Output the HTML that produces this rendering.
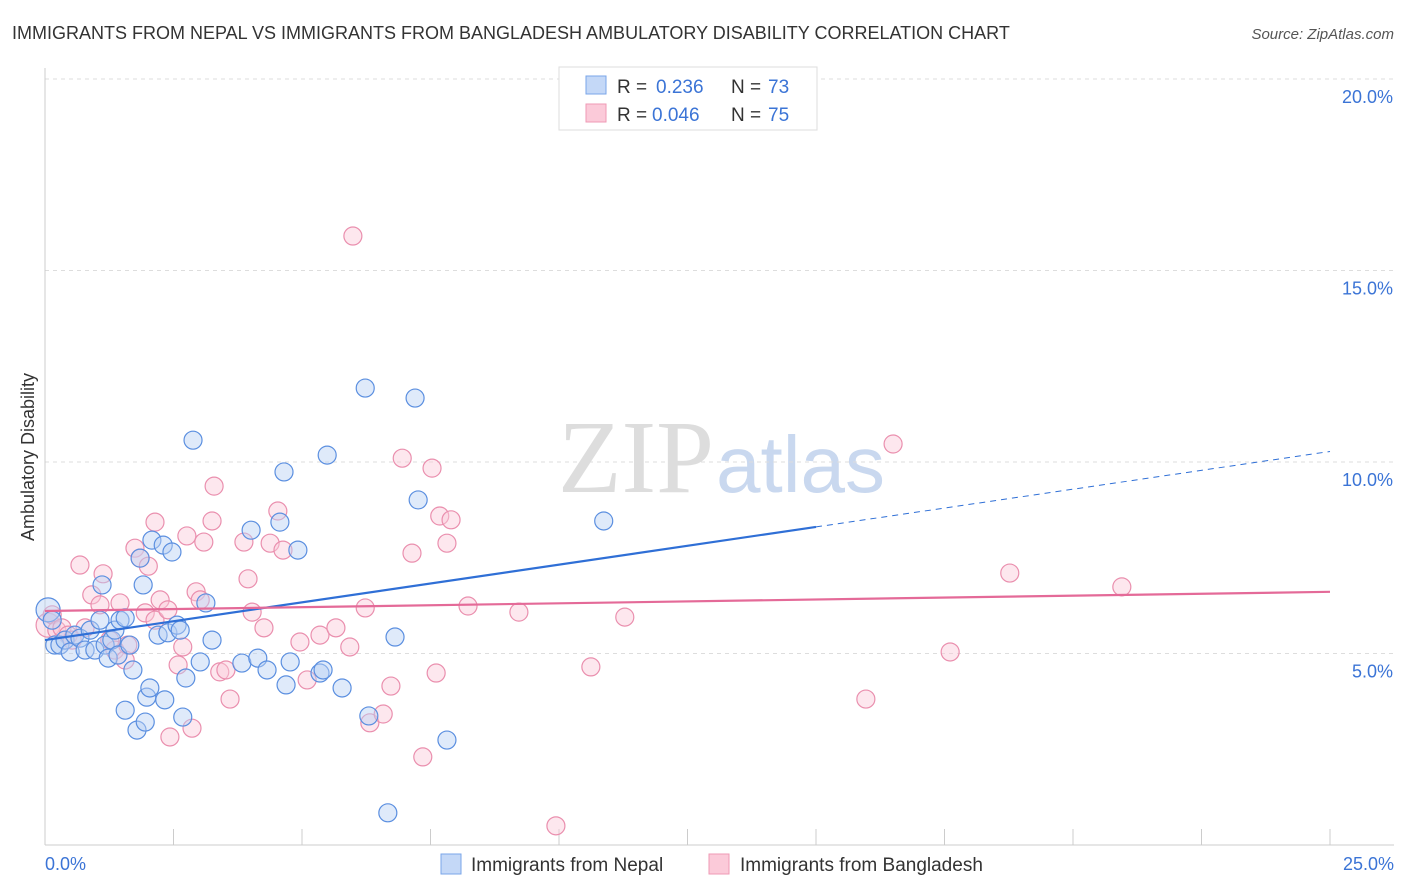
<!DOCTYPE html>
<html><head><meta charset="utf-8"><style>
body{margin:0;background:#fff;font-family:"Liberation Sans",sans-serif;}
#wrap{position:relative;width:1406px;height:892px;overflow:hidden;}
</style></head><body>
<div id="wrap">
<svg id="svg" width="1406" height="892" xmlns="http://www.w3.org/2000/svg">
<text x="12" y="39" font-size="18" fill="#333">IMMIGRANTS FROM NEPAL VS IMMIGRANTS FROM BANGLADESH AMBULATORY DISABILITY CORRELATION CHART</text>
<text x="1394" y="39" font-size="15" fill="#555" font-style="italic" text-anchor="end">Source: ZipAtlas.com</text>
<text x="34" y="457" font-size="18" fill="#333" text-anchor="middle" transform="rotate(-90 34 457)">Ambulatory Disability</text>
<text x="714" y="492" font-size="104" fill="#ddd" text-anchor="end" font-family="Liberation Serif,serif">ZIP</text>
<text x="716" y="492" font-size="80" fill="#c9d8ef">atlas</text>
<g id="grid"></g><g id="pts"></g><g id="lines"></g>
<g>
<rect x="559" y="67" width="258" height="63" fill="#fff" stroke="#ddd"/>
<rect x="586" y="76" width="20" height="18" fill="#c4d8f7" stroke="#7aa6e8"/>
<rect x="586" y="104" width="20" height="18" fill="#fbcad9" stroke="#ef9ab5"/>
<text x="617" y="93" font-size="19" fill="#333">R =</text>
<text x="656" y="93" font-size="19" fill="#3b74d6">0.236</text>
<text x="731" y="93" font-size="19" fill="#333">N =</text>
<text x="768" y="93" font-size="19" fill="#3b74d6">73</text>
<text x="617" y="121" font-size="19" fill="#333">R =</text>
<text x="652" y="121" font-size="19" fill="#3b74d6">0.046</text>
<text x="731" y="121" font-size="19" fill="#333">N =</text>
<text x="768" y="121" font-size="19" fill="#3b74d6">75</text>
</g>
<g>
<rect x="441" y="854" width="20" height="20" fill="#c4d8f7" stroke="#7aa6e8"/>
<text x="471" y="871" font-size="19" fill="#333">Immigrants from Nepal</text>
<rect x="709" y="854" width="20" height="20" fill="#fbcad9" stroke="#ef9ab5"/>
<text x="740" y="871" font-size="19" fill="#333">Immigrants from Bangladesh</text>
</g>
<text x="45" y="870" font-size="18" fill="#3b74d6">0.0%</text>
<text x="1394" y="870" font-size="18" fill="#3b74d6" text-anchor="end">25.0%</text>
</svg></div>
<script>
const nepalX=[0.06,0.14,0.19,0.29,0.39,0.49,0.58,0.68,0.78,0.88,0.97,1.07,1.11,1.17,1.23,1.30,1.36,1.42,1.46,1.56,1.56,1.65,1.71,1.79,1.85,1.91,1.95,1.98,2.04,2.08,2.20,2.30,2.33,2.39,2.47,2.57,2.63,2.68,2.74,2.88,3.02,3.13,3.25,3.83,4.01,4.14,4.32,4.57,4.65,4.69,4.77,4.92,5.35,5.41,5.49,5.78,6.23,6.30,6.81,6.67,7.20,7.26,7.82,10.87];
const nepalY=[6.14,5.87,5.22,5.22,5.35,5.04,5.48,5.40,5.09,5.61,5.09,5.87,6.79,5.22,4.88,5.35,5.61,4.96,5.87,3.52,5.93,5.22,4.57,3.00,7.49,6.79,3.21,3.86,4.10,7.96,5.48,7.83,3.79,5.54,7.65,5.74,5.61,3.34,4.36,10.57,4.78,6.32,5.35,4.75,8.22,4.88,4.57,8.43,9.74,4.18,4.78,7.70,4.49,4.57,10.18,4.10,11.93,3.37,5.43,0.84,11.67,9.01,2.74,8.46];
const bangX=[0.06,0.14,0.23,0.33,0.45,0.53,0.68,0.78,0.91,1.07,1.13,1.26,1.36,1.46,1.56,1.61,1.75,1.85,1.95,2.01,2.14,2.14,2.24,2.39,2.43,2.59,2.68,2.76,2.86,2.94,3.02,3.09,3.25,3.29,3.40,3.52,3.60,3.87,3.95,4.03,4.26,4.38,4.53,4.63,4.96,5.10,5.35,5.66,5.93,5.99,6.23,6.32,6.58,6.73,6.95,7.14,7.35,7.53,7.61,7.68,7.82,7.90,8.23,9.22,9.94,10.62,11.28,15.97,16.50,17.61,18.77,20.95];
const bangY=[5.74,6.01,5.61,5.67,5.48,5.35,7.31,5.67,6.53,6.27,7.08,5.35,5.09,6.32,4.83,5.22,7.75,7.49,6.06,7.28,8.43,5.87,6.40,6.14,2.82,4.70,5.17,8.07,3.05,6.61,6.40,7.91,8.46,9.37,4.52,4.57,3.81,7.91,6.95,6.08,5.67,7.88,8.72,7.70,5.30,4.31,5.48,5.67,5.17,15.90,6.19,3.19,3.42,4.15,10.10,7.62,2.30,9.84,4.49,8.59,7.88,8.49,6.24,6.08,0.50,4.65,5.95,3.81,10.47,5.04,7.10,6.74];
const nepalTrend=[5.35,0.197];
const bangTrend=[6.11,0.02];
const yTicks=[5,10,15,20];
const yTickLabels=["5.0%","10.0%","15.0%","20.0%"];
const xTicks=[0,2.5,5,7.5,10,12.5,15,17.5,20,22.5,25];
const NS="http://www.w3.org/2000/svg";
const sx=v=>45+v*51.4, sy=v=>845-v*38.3;
function mk(tag,attrs,parent){const e=document.createElementNS(NS,tag);for(const k in attrs)e.setAttribute(k,attrs[k]);parent.appendChild(e);return e;}
const gridG=document.getElementById('grid'),ptsG=document.getElementById('pts'),linesG=document.getElementById('lines');
yTicks.forEach((t,i)=>{const l=mk('line',{x1:45,x2:1394,y1:sy(t),y2:sy(t),stroke:'#ddd','stroke-dasharray':'4,4'},gridG);


const tx=mk('text',{x:1393,y:sy(t)+24,'font-size':18,fill:'#3b74d6','text-anchor':'end'},gridG);tx.textContent=yTickLabels[i];

});
const topLine=mk('line',{x1:45,x2:1394,y1:79,y2:79,stroke:'#ddd','stroke-dasharray':'4,4'},gridG);


const ax=mk('line',{x1:45,x2:45,y1:68,y2:845,stroke:'#ccc'},gridG);


const bx=mk('line',{x1:45,x2:1394,y1:845,y2:845,stroke:'#ccc'},gridG);


xTicks.forEach(t=>{const l=mk('line',{x1:sx(t),x2:sx(t),y1:829,y2:845,stroke:'#ccc'},gridG);

});
function dots(X,Y,fill,stroke,name){X.forEach((x,i)=>{const c=mk('circle',{cx:sx(x),cy:sy(Y[i]),r:i===0?12:9,fill:fill,'fill-opacity':0.45,stroke:stroke,'stroke-width':1.2},ptsG);

});}
dots(bangX,bangY,'#fbcad9','#ea8fae','point-bangladesh');
dots(nepalX,nepalY,'#b9d1f5','#5b8fe0','point-nepal');
const l1=mk('line',{x1:sx(0),y1:sy(nepalTrend[0]),x2:sx(15),y2:sy(nepalTrend[0]+15*nepalTrend[1]),stroke:'#2f6fd6','stroke-width':2.2},linesG);


const l2=mk('line',{x1:sx(15),y1:sy(nepalTrend[0]+15*nepalTrend[1]),x2:sx(25),y2:sy(nepalTrend[0]+25*nepalTrend[1]),stroke:'#2f6fd6','stroke-width':1,'stroke-dasharray':'6,5'},linesG);


const l3=mk('line',{x1:sx(0),y1:sy(bangTrend[0]),x2:sx(25),y2:sy(bangTrend[0]+25*bangTrend[1]),stroke:'#e46a98','stroke-width':2.2},linesG);


</script>
</body></html>
